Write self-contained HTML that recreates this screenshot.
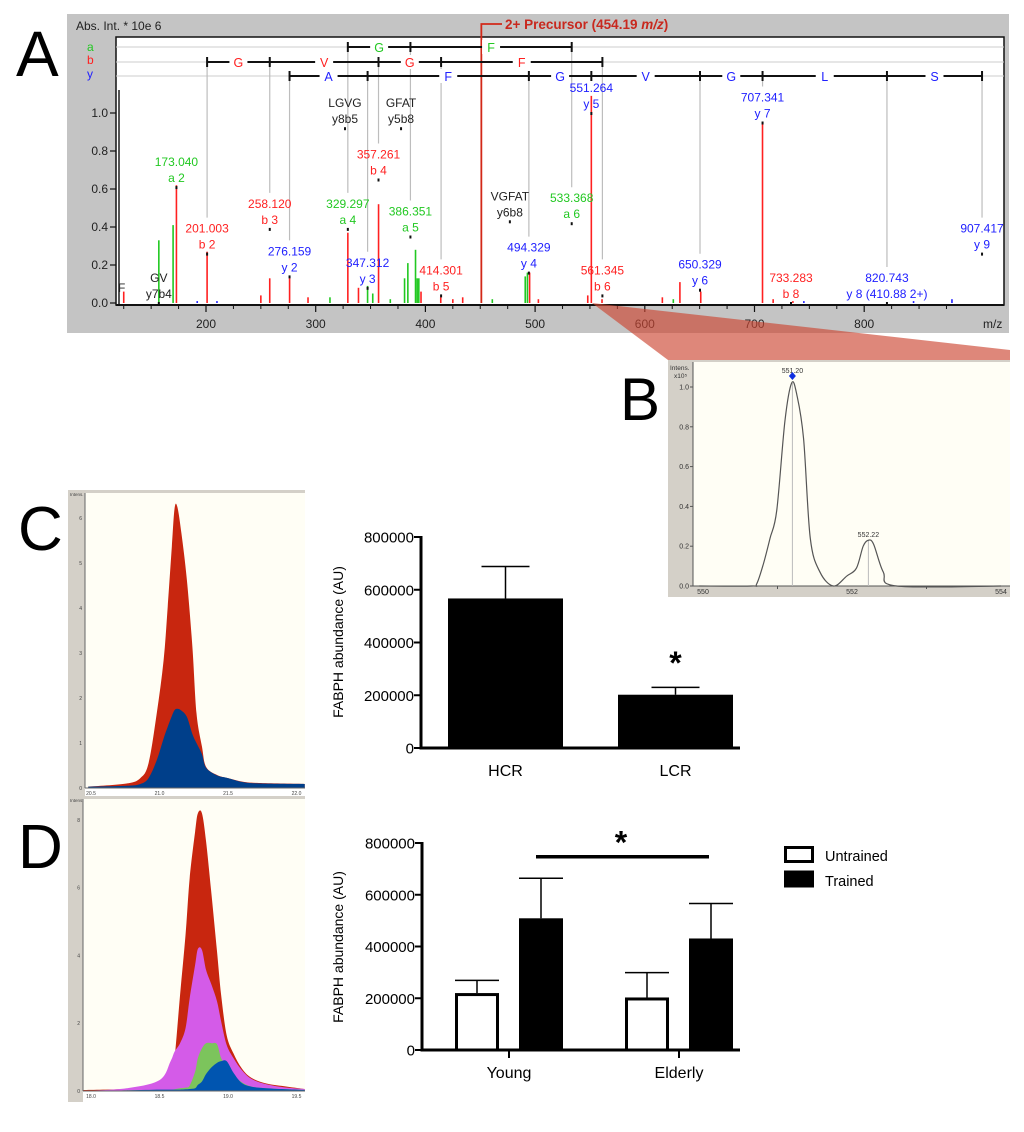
<!DOCTYPE html>
<html><head><meta charset="utf-8"><title>FABPH figure</title>
<style>
html,body{margin:0;padding:0;background:#fff;}
svg{display:block;font-family:"Liberation Sans",sans-serif;}
</style></head>
<body>
<svg id="fig" width="1024" height="1132" viewBox="0 0 1024 1132" xmlns="http://www.w3.org/2000/svg">
<defs>
<clipPath id="clipC"><rect x="85" y="493" width="220" height="296"/></clipPath>
<clipPath id="clipD"><rect x="83" y="799" width="222" height="293"/></clipPath>
</defs>
<text x="16" y="76" font-size="64">A</text>
<text x="620" y="420" font-size="60">B</text>
<text x="18" y="550" font-size="62">C</text>
<text x="18" y="868" font-size="62">D</text>
<g id="gA"></g>
<g id="gZoom"></g>
<g id="gB"></g>
<g id="gCc"></g>
<g id="gCb"></g>
<g id="gDc"></g>
<g id="gDb"></g>
</svg>
<script>
// ---------- Panel A data ----------
const peakMz = [125,157,170,173.04,201,250,258.1,276.2,293,313,329.3,339,347.3,352,357.3,368,381,384,391,392.5,394,396,414,425,434,461,491,493,495,503,548,551.26,561,616,626,632,651,707.3,717,735,192,210,745,845,880];
const peakInt = [0.06,0.33,0.41,0.62,0.27,0.04,0.13,0.13,0.03,0.03,0.37,0.08,0.09,0.05,0.52,0.02,0.13,0.21,0.28,0.13,0.13,0.06,0.03,0.02,0.03,0.02,0.14,0.16,0.16,0.02,0.04,1.09,0.02,0.03,0.02,0.11,0.06,0.94,0.02,0.01,0.01,0.01,0.01,0.01,0.02];
const peakColor = ['r','g','g','r','r','r','r','r','r','g','r','r','g','g','r','g','g','g','g','g','g','r','r','r','r','g','g','g','r','r','r','r','r','r','g','r','r','r','r','r','b','b','b','b','b'];
const annMz = [173.04,201.003,258.12,276.159,326.7,377.8,357.261,329.297,386.351,347.312,414.301,477,533.368,494.329,551.264,561.345,707.341,650.329,733.283,820.743,907.417,157];
const annH = [0.61,0.26,0.39,0.14,0.92,0.92,0.65,0.39,0.35,0.08,0.04,0.43,0.42,0.16,1.0,0.04,0.95,0.07,0.0,0.0,0.26,0.0];
const annT1 = ['173.040','201.003','258.120','276.159','LGVG','GFAT','357.261','329.297','386.351','347.312','414.301','VGFAT','533.368','494.329','551.264','561.345','707.341','650.329','733.283','820.743','907.417','GV'];
const annT2 = ['a 2','b 2','b 3','y 2','y8b5','y5b8','b 4','a 4','a 5','y 3','b 5','y6b8','a 6','y 4','y 5','b 6','y 7','y 6','b 8','y 8 (410.88 2+)','y 9','y7b4'];
const annColor = ['g','r','r','b','k','k','r','g','g','b','r','k','g','b','b','r','b','b','r','b','b','k'];
const ladderA = [329.297,386.351,533.368]; const ladderALetters = ['G','F'];
const ladderB = [201.003,258.12,357.261,414.301,561.345]; const ladderBLetters = ['G','V','G','F'];
const ladderY = [276.159,347.312,494.329,551.264,650.329,707.341,820.743,907.417]; const ladderYLetters = ['A','F','G','V','G','L','S'];
const precursorMz = 451;
const aXTicks = [200,300,400,500,600,700,800];
const aYTicks = [0,0.2,0.4,0.6,0.8,1.0];
// ---------- Panel B data ----------
const bMz = [549.95,550.65,550.72,550.81,550.9,550.99,551.10,551.19,551.26,551.35,551.44,551.57,551.75,551.93,552.06,552.15,552.22,552.29,552.42,552.60,554.0];
const bInt = [0,0,0.01,0.11,0.24,0.38,0.83,1.02,0.96,0.74,0.24,0.07,0.0,0.05,0.09,0.20,0.23,0.21,0.07,0.0,0];
const bPeakMz = [551.20,552.22]; const bPeakInt = [1.02,0.23]; const bPeakLbl = ['551.20','552.22'];
const bXTicks = [550,552,554]; const bYTicks = [0,0.2,0.4,0.6,0.8,1.0];
// ---------- Panel C chromatogram ----------
const cTime = [20.48,20.76,20.86,20.92,20.98,21.03,21.06,21.09,21.11,21.13,21.16,21.20,21.24,21.27,21.31,21.34,21.42,21.50,21.61,21.74,22.06];
const cRed = [0.03,0.10,0.22,0.55,1.66,2.84,4.03,5.36,6.21,6.25,5.66,4.62,3.14,1.66,0.92,0.47,0.29,0.22,0.14,0.11,0.09];
const cBlue = [0.03,0.05,0.09,0.22,0.62,1.10,1.36,1.60,1.73,1.76,1.72,1.58,1.20,1.00,0.75,0.45,0.28,0.22,0.13,0.10,0.09];
const cXTicks = ['20.5','21.0','21.5','22.0']; const cYTicks = [0,1,2,3,4,5,6];
// ---------- Panel D chromatogram ----------
const dTime = [17.94,18.26,18.50,18.58,18.61,18.65,18.69,18.72,18.76,18.78,18.81,18.84,18.88,18.92,18.95,18.99,19.04,19.10,19.17,19.28,19.43,19.56];
const dRed = [0.03,0.06,0.13,0.28,0.96,2.83,4.60,6.27,7.65,8.19,8.19,7.36,5.78,4.11,2.83,1.65,1.11,0.67,0.39,0.22,0.13,0.06];
const dMagenta = [0,0.08,0.32,0.87,1.16,1.41,1.85,2.73,3.72,4.19,4.16,3.57,3.13,2.64,2.05,1.36,0.97,0.62,0.36,0.20,0.10,0.06];
const dGreen = [0,0.02,0.03,0.03,0.05,0.08,0.10,0.16,0.57,0.97,1.26,1.41,1.41,1.38,0.97,0.72,0.47,0.26,0.13,0.08,0.05,0.03];
const dBlue = [0,0.02,0.04,0.04,0.04,0.04,0.05,0.06,0.08,0.18,0.28,0.50,0.70,0.83,0.88,0.88,0.54,0.24,0.13,0.08,0.05,0.03];
const dXTicks = ['18.0','18.5','19.0','19.5']; const dYTicks = [0,2,4,6,8];
// ---------- Panel C bars ----------
const cCats = ['HCR','LCR'];
const cVals = [567000,202000];
const cErr = [688000,230000];
const cStarVal = 333000;
const barYTicks = [0,200000,400000,600000,800000];
// ---------- Panel D bars ----------
const dCats = ['Young','Elderly'];
const dUntrained = [220000,203000];
const dUntrainedErr = [269000,299000];
const dTrained = [509000,431000];
const dTrainedErr = [664000,566000];
const dSigVal = 747000;
const dSeries = ['Untrained','Trained'];

const NS='http://www.w3.org/2000/svg';
function mk(parent, tag, attrs, txt){const e=document.createElementNS(NS,tag);for(const k in attrs)e.setAttribute(k,attrs[k]);if(txt!==undefined)e.textContent=txt;parent.appendChild(e);return e;}
function smooth(pts){
  let d='M'+pts[0][0]+','+pts[0][1];
  for(let i=0;i<pts.length-1;i++){
    const p0=pts[i-1]||pts[i],p1=pts[i],p2=pts[i+1],p3=pts[i+2]||p2;
    const c1x=p1[0]+(p2[0]-p0[0])/6,c1y=p1[1]+(p2[1]-p0[1])/6;
    const c2x=p2[0]-(p3[0]-p1[0])/6,c2y=p2[1]-(p3[1]-p1[1])/6;
    d+=` C${c1x},${c1y} ${c2x},${c2y} ${p2[0]},${p2[1]}`;
  }
  return d;
}
const COL={r:'#ff2020',g:'#22c822',b:'#2020ff',k:'#222'};
let el;

// ===== Panel A =====
const gA=document.getElementById('gA');
const mzX = m => 206 + (m-200)*1.097;
const intY = v => 303 - v*190;
el=mk(gA,'rect',{x:67,y:14,width:942,height:319,fill:'#c4c4c4'});


el=mk(gA,'rect',{x:116,y:37,width:888,height:268,fill:'#fff',stroke:'#111','stroke-width':1.5});


el=mk(gA,'text',{x:76,y:30,'font-size':12,fill:'#222'},'Abs. Int. * 10e 6');


[['a',51,'g'],['b',64,'r'],['y',78,'b']].forEach(([t,y,c])=>{
  el=mk(gA,'text',{x:87,y:y,'font-size':12,fill:COL[c]},t);
  
  
});
[47,62,76].forEach((y,i)=>{
  el=mk(gA,'line',{x1:116,x2:1004,y1:y,y2:y,stroke:'#ccc','stroke-width':1});
  
  
});
function annTop(m){const i=annMz.indexOf(m);return i<0?290:intY(annH[i])-36;}
[[ladderA,47],[ladderB,62],[ladderY,76]].forEach(([arr,y])=>{
  arr.forEach(m=>{
    el=mk(gA,'line',{x1:mzX(m),x2:mzX(m),y1:y,y2:annTop(m),stroke:'#bdbdbd','stroke-width':1.2});
    
    
  });
});
peakMz.forEach((m,i)=>{
  el=mk(gA,'line',{x1:mzX(m),x2:mzX(m),y1:303,y2:intY(peakInt[i]),stroke:COL[peakColor[i]],'stroke-width':1.6});
  
  
});
el=mk(gA,'polyline',{points:`${mzX(precursorMz)},303 ${mzX(precursorMz)},24 502,24`,fill:'none',stroke:'#d22818','stroke-width':1.8});


el=mk(gA,'text',{x:505,y:29,'font-size':13.5,'font-weight':'bold',fill:'#c8281e'});


el.innerHTML='2+ Precursor (454.19 <tspan font-style="italic">m/z</tspan>)';
el=mk(gA,'line',{x1:119,x2:119,y1:90,y2:305,stroke:'#555','stroke-width':2});


el=mk(gA,'line',{x1:116,x2:1004,y1:305,y2:305,stroke:'#111','stroke-width':2});


aXTicks.forEach(t=>{
  el=mk(gA,'line',{x1:mzX(t),x2:mzX(t),y1:305,y2:312,stroke:'#111','stroke-width':1.2});
  
  
  el=mk(gA,'text',{x:mzX(t),y:328,'font-size':12,'text-anchor':'middle',fill:'#222'},String(t));
  
  
});
for(let t=125;t<=900;t+=25){if(t%100===0)continue;
  el=mk(gA,'line',{x1:mzX(t),x2:mzX(t),y1:305,y2:309,stroke:'#111','stroke-width':1});
  
  }
el=mk(gA,'text',{x:983,y:328,'font-size':12,fill:'#222'},'m/z');


aYTicks.forEach(t=>{
  el=mk(gA,'line',{x1:110,x2:116,y1:intY(t),y2:intY(t),stroke:'#111','stroke-width':1.2});
  
  
  el=mk(gA,'text',{x:108,y:intY(t)+4,'font-size':12,'text-anchor':'end',fill:'#222'},t.toFixed(1));
  
  
});
function ladder(arr,letters,y,color,nm){
  el=mk(gA,'line',{x1:mzX(arr[0]),x2:mzX(arr[arr.length-1]),y1:y,y2:y,stroke:'#111','stroke-width':2});
  
  
  arr.forEach(m=>{
    el=mk(gA,'line',{x1:mzX(m),x2:mzX(m),y1:y-5,y2:y+5,stroke:'#111','stroke-width':2});
    
    
  });
  letters.forEach((L,i)=>{
    const cx=(mzX(arr[i])+mzX(arr[i+1]))/2;
    el=mk(gA,'rect',{x:cx-9,y:y-7,width:18,height:14,fill:'#fff'});
    
    
    el=mk(gA,'text',{x:cx,y:y+5,'font-size':12.5,'text-anchor':'middle',fill:color},L);
    
    
  });
}
ladder(ladderA,ladderALetters,47,COL.g,'a');
ladder(ladderB,ladderBLetters,62,COL.r,'b');
ladder(ladderY,ladderYLetters,76,COL.b,'y');
annMz.forEach((m,i)=>{
  const x=mzX(m), y=intY(annH[i]);
  el=mk(gA,'line',{x1:x,x2:x,y1:y-1,y2:y+2,stroke:'#111','stroke-width':2});
  
  
  el=mk(gA,'text',{x:x,y:y-21,'font-size':12,'text-anchor':'middle',fill:COL[annColor[i]]},annT1[i]);
  
  
  el=mk(gA,'text',{x:x,y:y-5,'font-size':12,'text-anchor':'middle',fill:COL[annColor[i]]},annT2[i]);
  
  
});
el=mk(gA,'text',{x:118,y:292,'font-size':12,fill:'#222'},'F');



// ===== Zoom wedge =====
const gZ=document.getElementById('gZoom');
el=mk(gZ,'polygon',{points:'592,303 668,360 1010,360 1010,350',fill:'rgba(205,70,50,0.65)'});



// ===== Panel B =====
const gB=document.getElementById('gB');
const bX = m => 703 + (m-550)*74.5;
const bY = v => 586 - v*199;
el=mk(gB,'rect',{x:668,y:360,width:342,height:237,fill:'#d4d0c8'});


el=mk(gB,'rect',{x:693,y:362,width:317,height:224,fill:'#fffef5'});


el=mk(gB,'line',{x1:693,x2:693,y1:362,y2:586,stroke:'#555'});


el=mk(gB,'line',{x1:693,x2:1010,y1:586,y2:586,stroke:'#555'});


el=mk(gB,'text',{x:670,y:370,'font-size':6.5,fill:'#333'},'Intens.');


el=mk(gB,'text',{x:674,y:378,'font-size':6.5,fill:'#333'},'x10⁵');


bYTicks.forEach(t=>{
  el=mk(gB,'line',{x1:690,x2:693,y1:bY(t),y2:bY(t),stroke:'#555'});
  
  
  el=mk(gB,'text',{x:689,y:bY(t)+2.5,'font-size':7,'text-anchor':'end',fill:'#333'},t.toFixed(1));
  
  
});
bXTicks.forEach(t=>{
  el=mk(gB,'text',{x:bX(t),y:594,'font-size':7,'text-anchor':'middle',fill:'#333'},String(t));
  
  
});
[551,553].forEach(t=>{
  el=mk(gB,'line',{x1:bX(t),x2:bX(t),y1:586,y2:589,stroke:'#555'});
  
  
});
bPeakMz.forEach((m,i)=>{
  el=mk(gB,'line',{x1:bX(m),x2:bX(m),y1:586,y2:bY(bPeakInt[i]),stroke:'#bbb'});
  
  
  el=mk(gB,'text',{x:bX(m),y:bY(bPeakInt[i])-(i===0?10:3),'font-size':7,'text-anchor':'middle',fill:'#333'},bPeakLbl[i]);
  
  
});
el=mk(gB,'path',{d:smooth(bMz.map((m,i)=>[bX(m),bY(bInt[i])])),fill:'none',stroke:'#555','stroke-width':1.2});


el=mk(gB,'polygon',{points:`${bX(551.2)},${bY(1.02)-11} ${bX(551.2)+3.5},${bY(1.02)-7} ${bX(551.2)},${bY(1.02)-3} ${bX(551.2)-3.5},${bY(1.02)-7}`,fill:'#1030e0'});



// ===== Chromatograms =====
function chrom(g,cfg){
  const tx=t=>91+(t-cfg.t0)*137, iy=v=>cfg.base-v*cfg.k;
  el=mk(g,'rect',{x:68,y:cfg.top-3,width:237,height:cfg.bot-cfg.top+3,fill:'#d4d0c8'});
  
  
  el=mk(g,'rect',{x:cfg.left,y:cfg.top,width:305-cfg.left,height:cfg.base-cfg.top,fill:'#fffef5'});
  
  
  el=mk(g,'rect',{x:cfg.left,y:cfg.base,width:305-cfg.left,height:cfg.bot-cfg.base,fill:'#fff'});
  
  
  cfg.series.forEach(s=>{
    const pts=cfg.time.map((t,i)=>[tx(t),iy(s.v[i])]);
    const d=smooth(pts)+` L${tx(cfg.time[cfg.time.length-1])},${cfg.base} L${tx(cfg.time[0])},${cfg.base} Z`;
    el=mk(g,'path',{d:d,fill:s.c,'clip-path':cfg.clip});
    
    
  });
  el=mk(g,'line',{x1:cfg.left,x2:305,y1:cfg.base,y2:cfg.base,stroke:'#666'});
  
  
  el=mk(g,'line',{x1:cfg.left,x2:cfg.left,y1:cfg.top,y2:cfg.base,stroke:'#666'});
  
  
  cfg.yt.forEach(t=>{
    el=mk(g,'text',{x:cfg.left-3,y:iy(t)+2,'font-size':5,'text-anchor':'end',fill:'#444'},String(t));
    
    
  });
  cfg.xt.forEach(t=>{
    el=mk(g,'text',{x:tx(parseFloat(t)),y:cfg.base+7,'font-size':5,'text-anchor':'middle',fill:'#444'},t);
    
    
  });
  el=mk(g,'text',{x:70,y:cfg.top+3,'font-size':4.5,fill:'#444'},'Intens.');
  
  
}
chrom(document.getElementById('gCc'),{t0:20.5,base:788,k:45,top:493,bot:797,left:85,clip:'url(#clipC)',time:cTime,
  series:[{n:'red',v:cRed,c:'#c8260f'},{n:'blue',v:cBlue,c:'#003f8a'}],xt:cXTicks,yt:cYTicks});
chrom(document.getElementById('gDc'),{t0:18,base:1091,k:33.9,top:799,bot:1102,left:83,clip:'url(#clipD)',time:dTime,
  series:[{n:'red',v:dRed,c:'#c8260f'},{n:'magenta',v:dMagenta,c:'#d45be8'},{n:'green',v:dGreen,c:'#7cc45c'},{n:'blue',v:dBlue,c:'#0055b0'}],xt:dXTicks,yt:dYTicks});

// ===== Bar charts =====
function barAxes(g,ax,y0,h,titleY,pre){
  const sy=v=>y0-v/800000*h;
  el=mk(g,'line',{x1:ax,x2:ax,y1:sy(800000)-1,y2:y0+1.5,stroke:'#000','stroke-width':3});
  
  
  el=mk(g,'line',{x1:ax-1.5,x2:740,y1:y0,y2:y0,stroke:'#000','stroke-width':3});
  
  
  barYTicks.forEach(t=>{
    el=mk(g,'line',{x1:ax-7,x2:ax,y1:sy(t),y2:sy(t),stroke:'#000','stroke-width':2});
    
    
    el=mk(g,'text',{x:ax-7,y:sy(t)+5.5,'font-size':15,'text-anchor':'end',fill:'#000'},String(t));
    
    
  });
  el=mk(g,'text',{x:0,y:0,'font-size':14,'text-anchor':'middle',fill:'#000',transform:`translate(343,${titleY}) rotate(-90)`},'FABPH abundance (AU)');
  
  
  return sy;
}
function bar(g,x,w,v,e,sy,y0,fill,nm){
  el=mk(g,'line',{x1:x+w/2,x2:x+w/2,y1:sy(v),y2:sy(e),stroke:'#000','stroke-width':1.5});
  
  
  el=mk(g,'line',{x1:x+w/2-Math.min(24,w/2),x2:x+w/2+Math.min(24,w/2),y1:sy(e),y2:sy(e),stroke:'#000','stroke-width':1.5});
  
  
  el=mk(g,'rect',{x:x+1.5,y:sy(v)+1.5,width:w-3,height:y0-sy(v)-1.5,fill:fill,stroke:'#000','stroke-width':3});
  
  
}
const gCb=document.getElementById('gCb');
const syC=barAxes(gCb,421,748,211,642,'c');
const cBarX=[448,618];
cCats.forEach((c,i)=>{
  bar(gCb,cBarX[i],115,cVals[i],cErr[i],syC,748,'#000','bar-'+c.toLowerCase());
  el=mk(gCb,'text',{x:cBarX[i]+57.5,y:776,'font-size':16,'text-anchor':'middle',fill:'#000'},c);
  
  
});
el=mk(gCb,'text',{x:cBarX[1]+57.5,y:syC(cStarVal)+14,'font-size':32,'font-weight':'bold','text-anchor':'middle',fill:'#000'},'*');


const gDb=document.getElementById('gDb');
const syD=barAxes(gDb,422,1050,207,947,'d');
const dGroupX=[455,625];
dCats.forEach((c,i)=>{
  const gx=dGroupX[i];
  bar(gDb,gx,44,dUntrained[i],dUntrainedErr[i],syD,1050,'#fff','bar-'+c.toLowerCase()+'-untrained');
  bar(gDb,gx+64,44,dTrained[i],dTrainedErr[i],syD,1050,'#000','bar-'+c.toLowerCase()+'-trained');
  el=mk(gDb,'line',{x1:gx+54,x2:gx+54,y1:1050,y2:1058,stroke:'#000','stroke-width':2});
  
  
  el=mk(gDb,'text',{x:gx+54,y:1078,'font-size':16,'text-anchor':'middle',fill:'#000'},c);
  
  
});
el=mk(gDb,'line',{x1:dGroupX[0]+81,x2:dGroupX[1]+84,y1:syD(dSigVal),y2:syD(dSigVal),stroke:'#000','stroke-width':3.5});


el=mk(gDb,'text',{x:621,y:syD(dSigVal)-3,'font-size':32,'font-weight':'bold','text-anchor':'middle',fill:'#000'},'*');


dSeries.forEach((s,i)=>{
  el=mk(gDb,'rect',{x:785.5,y:847.5+i*24.5,width:27,height:14,fill:i?'#000':'#fff',stroke:'#000','stroke-width':3});
  
  
  el=mk(gDb,'text',{x:825,y:861+i*25,'font-size':14.5,fill:'#000'},s);
  
  
});
</script>
</body></html>
